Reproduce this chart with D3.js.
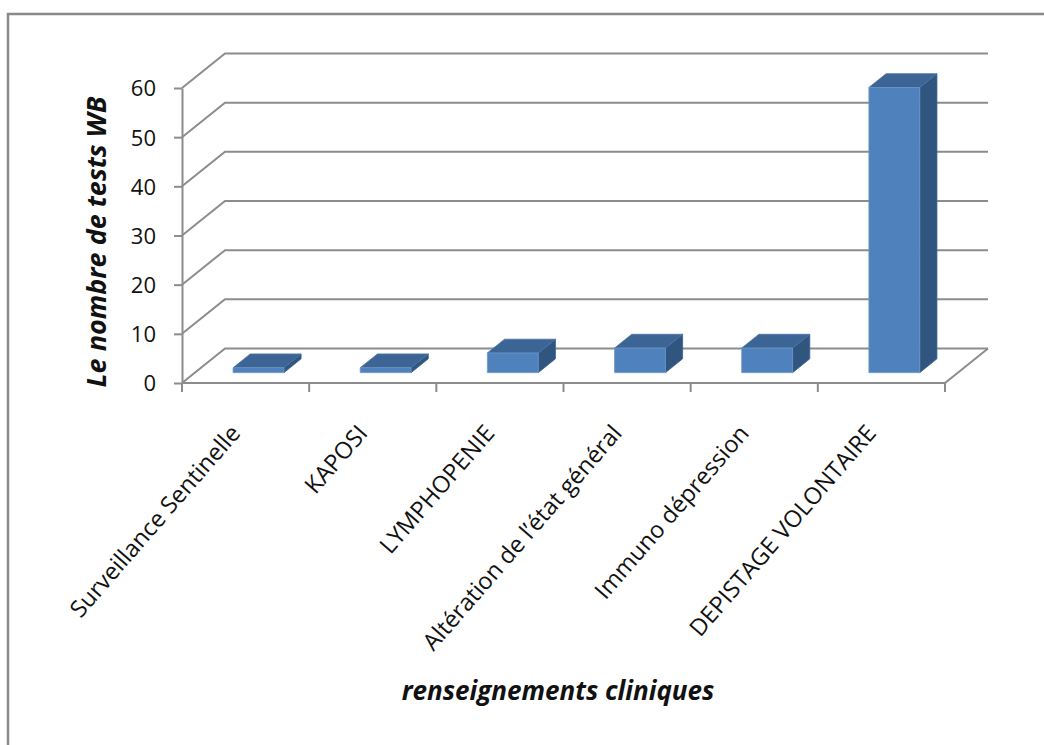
<!DOCTYPE html>
<html>
<head>
<meta charset="utf-8">
<script src="https://cdn.jsdelivr.net/npm/d3@7"></script>
<style>
  html, body { margin: 0; padding: 0; background: #fff; }
  svg { display: block; }
  text { font-family: "Open Sans", "DejaVu Sans", sans-serif; fill: #111; }
</style>
</head>
<body>
<svg id="chart" width="1044" height="745"></svg>
<script>
// Data
const categories = [
  "Surveillance Sentinelle",
  "KAPOSI",
  "LYMPHOPENIE",
  "Altération de l’état général",
  "Immuno dépression",
  "DEPISTAGE VOLONTAIRE"
];
const values = [1, 1, 4, 5, 5, 58];
const yTicks = [0, 10, 20, 30, 40, 50, 60];
const yTitle = "Le nombre de tests WB";
const xTitle = "renseignements cliniques";

// Layout of the pseudo-3D plot box
const svg = d3.select("#chart");
const plot = { left: 182, right: 945, bottom: 383, top: 88 };
const DX = 43, DY = -34.5;           // wall depth offset
const barFront = 0.3, barBack = 0.7; // bar position inside the depth
const gridColor = "#8c8c8c";

const x = d3.scaleBand().domain(categories).range([plot.left, plot.right]).padding(0);
const y = d3.scaleLinear().domain([0, 60]).range([plot.bottom, plot.top]);
const bw = x.bandwidth();

// Outer chart frame
svg.append("rect")
  .attr("x", 8).attr("y", 14)
  .attr("width", 1100).attr("height", 800)
  .attr("fill", "none")
  .attr("stroke", "#8a8a8a")
  .attr("stroke-width", 2.5);

const grid = svg.append("g")
  .attr("stroke", gridColor)
  .attr("stroke-width", 2)
  .attr("fill", "none");

// Back wall gridlines + side wall diagonals
yTicks.forEach(t => {
  const yy = y(t);
  grid.append("path")
    .attr("d", `M${plot.left},${yy} L${plot.left + DX},${yy + DY} L${plot.right + DX},${yy + DY}`);
});

// Floor front edge and right edge
grid.append("path")
  .attr("d", `M${plot.left},${y(0)} L${plot.right},${y(0)} L${plot.right + DX},${y(0) + DY}`);

// Category tick marks at band boundaries
const bounds = categories.map(c => x(c)).concat([x(categories[categories.length - 1]) + bw]);
bounds.forEach(bx => {
  grid.append("line")
    .attr("x1", bx).attr("x2", bx)
    .attr("y1", y(0)).attr("y2", y(0) + 9);
});

// Value axis
const yAxis = d3.axisLeft(y)
  .tickValues(yTicks)
  .tickSize(8)
  .tickSizeOuter(0)
  .tickPadding(18)
  .tickFormat(d3.format("d"));
const ya = svg.append("g")
  .attr("transform", `translate(${plot.left},0)`)
  .call(yAxis);
ya.select(".domain").attr("stroke", gridColor).attr("stroke-width", 2);
ya.selectAll(".tick line").attr("stroke", gridColor).attr("stroke-width", 2);
ya.selectAll(".tick text")
  .attr("font-family", "'Open Sans', sans-serif")
  .attr("font-size", 22)
  .attr("fill", "#111")
  .attr("dy", "0.36em");

// Bars drawn as extruded boxes
const bars = svg.append("g");
categories.forEach((c, i) => {
  const v = values[i];
  const L = x(c) + bw * 0.3;
  const R = x(c) + bw * 0.7;
  const yt = y(v), yb = y(0);
  const fx = barFront * DX, fy = barFront * DY;
  const bx = barBack * DX, by = barBack * DY;
  const g = bars.append("g").attr("stroke-linejoin", "round");
  // side
  g.append("path")
    .attr("d", `M${R + fx},${yt + fy} L${R + bx},${yt + by} L${R + bx},${yb + by} L${R + fx},${yb + fy} Z`)
    .attr("fill", "#30557f")
    .attr("stroke", "#3b6390").attr("stroke-width", 0.8);
  // top
  g.append("path")
    .attr("d", `M${L + fx},${yt + fy} L${R + fx},${yt + fy} L${R + bx},${yt + by} L${L + bx},${yt + by} Z`)
    .attr("fill", "#3c6595")
    .attr("stroke", "#4a74a6").attr("stroke-width", 0.8);
  // front
  g.append("rect")
    .attr("x", L + fx).attr("y", yt + fy)
    .attr("width", R - L).attr("height", yb - yt)
    .attr("fill", "#4f81bd")
    .attr("stroke", "#6b97cb").attr("stroke-width", 0.8);
});

// Category labels, rotated
const labelAngle = -49;
svg.append("g").selectAll("text")
  .data(categories)
  .join("text")
  .attr("transform", d => `translate(${x(d) + bw / 2 - 4},${434}) rotate(${labelAngle})`)
  .attr("text-anchor", "end")
  .attr("font-size", 23.5)
  .text(d => d);

// Axis titles
svg.append("text")
  .attr("transform", `translate(106,${242}) rotate(-90)`)
  .attr("text-anchor", "middle")
  .attr("font-size", 27)
  .attr("font-weight", "bold")
  .attr("font-style", "italic")
  .text(yTitle);

svg.append("text")
  .attr("x", 558).attr("y", 700)
  .attr("text-anchor", "middle")
  .attr("font-size", 26)
  .attr("font-weight", "bold")
  .attr("font-style", "italic")
  .text(xTitle);
</script>
</body>
</html>
